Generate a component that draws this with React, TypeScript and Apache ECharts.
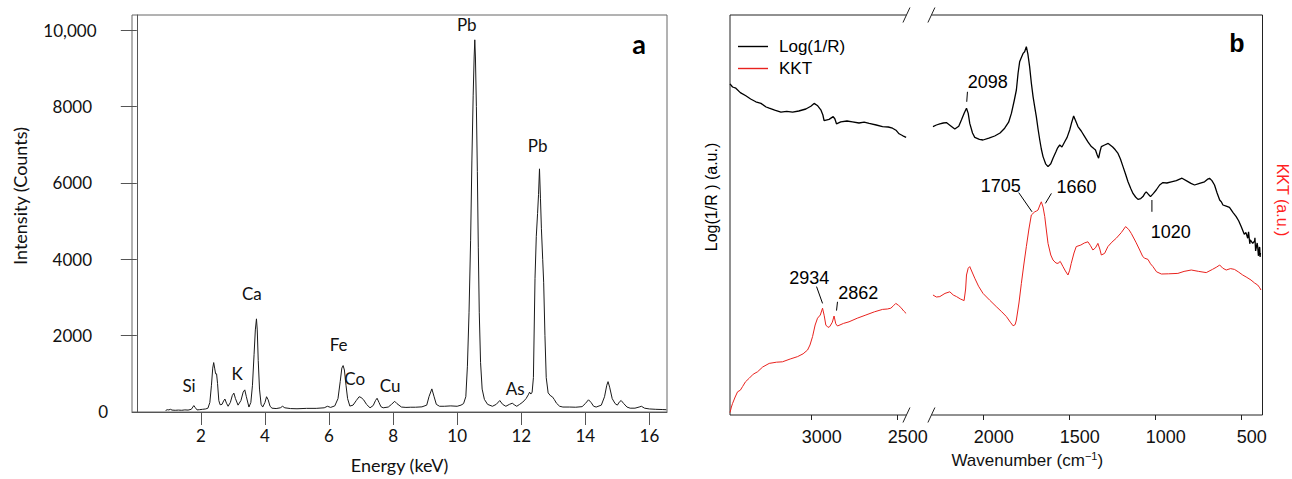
import React, { useEffect, useRef } from 'react';
import * as echarts from 'echarts';

// ---------- Panel a : EDX spectrum ----------
const edxSpectrum: [number, number][] = [
  [0.9, 40], [0.95, 60], [1.0, 55], [1.05, 70], [1.1, 50], [1.2, 45], [1.3, 50], [1.4, 45], [1.5, 55], [1.6, 50],
  [1.7, 70], [1.75, 130], [1.78, 168], [1.82, 120], [1.88, 55], [1.95, 60], [2.05, 70], [2.15, 80], [2.22, 100],
  [2.28, 250], [2.33, 700], [2.37, 1150], [2.4, 1295], [2.43, 1150], [2.46, 1000], [2.49, 1000], [2.52, 750],
  [2.56, 300], [2.6, 190], [2.66, 200], [2.71, 290], [2.75, 340], [2.8, 230], [2.85, 150], [2.92, 250], [2.98, 430],
  [3.03, 495], [3.08, 350], [3.16, 180], [3.25, 300], [3.32, 520], [3.37, 580], [3.42, 400], [3.5, 130], [3.56, 250],
  [3.61, 700], [3.66, 1500], [3.7, 2150], [3.735, 2440], [3.76, 2150], [3.79, 1350], [3.83, 600], [3.88, 200],
  [3.93, 130], [4.0, 250], [4.05, 400], [4.1, 320], [4.16, 150], [4.22, 100], [4.35, 90], [4.48, 110], [4.55, 150],
  [4.62, 110], [4.8, 90], [5.0, 85], [5.3, 95], [5.6, 95], [5.85, 110], [5.95, 150], [6.05, 120], [6.18, 160],
  [6.28, 350], [6.35, 800], [6.4, 1150], [6.44, 1216], [6.48, 1100], [6.53, 700], [6.58, 350], [6.65, 155],
  [6.75, 180], [6.85, 300], [6.94, 400], [7.0, 380], [7.08, 320], [7.17, 200], [7.28, 110], [7.38, 170], [7.45, 300],
  [7.5, 360], [7.56, 250], [7.62, 140], [7.69, 110], [7.85, 130], [7.95, 200], [8.05, 280], [8.12, 220], [8.26, 130],
  [8.4, 120], [8.55, 125], [8.7, 125], [8.9, 135], [9.05, 180], [9.12, 400], [9.21, 605], [9.28, 400], [9.35, 200],
  [9.45, 150], [9.6, 150], [9.8, 160], [10.0, 150], [10.12, 180], [10.2, 220], [10.27, 400], [10.32, 1200],
  [10.37, 2600], [10.42, 4500], [10.46, 6600], [10.5, 8300], [10.53, 9300], [10.55, 9750], [10.57, 9300],
  [10.6, 8000], [10.63, 6300], [10.66, 4300], [10.69, 2600], [10.73, 1300], [10.78, 600], [10.85, 330],
  [10.95, 200], [11.1, 150], [11.22, 200], [11.33, 300], [11.42, 200], [11.52, 150], [11.63, 200], [11.72, 230],
  [11.8, 180], [11.86, 150], [11.95, 200], [12.05, 260], [12.15, 350], [12.22, 450], [12.26, 520], [12.3, 470],
  [12.34, 520], [12.38, 900], [12.43, 3500], [12.47, 4600], [12.51, 5200], [12.54, 5700], [12.57, 6370],
  [12.6, 5600], [12.63, 4800], [12.67, 4000], [12.7, 3400], [12.74, 2000], [12.78, 900], [12.84, 500], [12.92, 420],
  [12.97, 400], [13.03, 330], [13.1, 230], [13.2, 150], [13.3, 130], [13.5, 130], [13.7, 125], [13.9, 140],
  [14.0, 220], [14.1, 320], [14.18, 250], [14.26, 150], [14.34, 130], [14.5, 180], [14.6, 400], [14.67, 700],
  [14.71, 795], [14.76, 650], [14.84, 350], [14.93, 220], [15.0, 180], [15.07, 270], [15.12, 300], [15.2, 220],
  [15.3, 130], [15.4, 100], [15.55, 100], [15.68, 130], [15.75, 150], [15.85, 100], [16.0, 80], [16.2, 70],
  [16.4, 65], [16.53, 60],
];
const energyTicks = [2, 4, 6, 8, 10, 12, 14, 16];
const countTicks = [2000, 4000, 6000, 8000, 10000];
const countLabels = [0, 2000, 4000, 6000, 8000, 10000];
const edxPeakLabels = [
  { text: 'Si', e: 1.63, c: 700 },
  { text: 'K', e: 3.13, c: 1001 },
  { text: 'Ca', e: 3.59, c: 3112 },
  { text: 'Fe', e: 6.3, c: 1777 },
  { text: 'Co', e: 6.8, c: 887 },
  { text: 'Cu', e: 7.91, c: 698 },
  { text: 'As', e: 11.81, c: 613 },
  { text: 'Pb', e: 10.3, c: 10141 },
  { text: 'Pb', e: 12.51, c: 6993 },
];

// ---------- Panel b : FTIR ----------
const log1rLeft: [number, number][] = [
  [3470, 82.8], [3455, 82.0], [3436, 81.7], [3410, 80.6], [3378, 79.8], [3350, 79.0], [3320, 78.3], [3290, 77.9],
  [3260, 77.0], [3242, 76.7], [3210, 76.2], [3174, 75.7], [3140, 75.9], [3106, 75.7], [3070, 76.0], [3029, 76.5],
  [3000, 77.2], [2981, 77.9], [2960, 77.3], [2942, 76.3], [2930, 75.0], [2923, 73.6], [2894, 73.9], [2870, 74.6],
  [2860, 74.0], [2851, 72.8], [2826, 73.3], [2790, 73.5], [2758, 73.3], [2720, 73.0], [2690, 73.2], [2661, 72.9],
  [2620, 72.5], [2583, 72.1], [2550, 72.0], [2525, 71.7], [2505, 71.2], [2487, 70.3], [2465, 69.8], [2446, 69.4],
];
const log1rRight: [number, number][] = [
  [2290, 72.1], [2270, 72.5], [2250, 72.8], [2230, 73.0], [2212, 73.1], [2190, 72.4], [2163, 71.5], [2140, 72.2],
  [2124, 73.8], [2108, 75.5], [2095, 76.7], [2085, 75.4], [2076, 72.9], [2060, 70.5], [2047, 69.4], [2020, 68.9],
  [1999, 68.75], [1965, 69.2], [1931, 69.75], [1900, 70.5], [1873, 71.7], [1850, 73.2], [1834, 75.4], [1818, 78.5],
  [1805, 81.25], [1795, 85.5], [1786, 88.3], [1776, 89.4], [1766, 90.4], [1757, 90.8], [1747, 92.1], [1738, 90.2],
  [1728, 87.1], [1718, 83.0], [1708, 79.6], [1698, 76.9], [1689, 74.6], [1679, 71.5], [1669, 68.75], [1660, 66.5],
  [1650, 64.6], [1635, 62.8], [1621, 62.1], [1605, 62.8], [1592, 64.2], [1575, 65.8], [1565, 66.8], [1553, 67.5],
  [1540, 67.0], [1524, 68.3], [1510, 69.4], [1495, 71.25], [1483, 73.2], [1472, 74.75], [1460, 73.5], [1447, 72.1],
  [1428, 71.0], [1408, 69.6], [1388, 68.2], [1369, 67.1], [1355, 66.6], [1345, 66.25], [1335, 65.0], [1327, 64.2],
  [1318, 66.0], [1311, 67.1], [1292, 67.5], [1271, 67.9], [1245, 67.0], [1230, 66.3], [1214, 65.4], [1200, 64.0],
  [1185, 62.1], [1170, 60.2], [1156, 58.3], [1140, 56.6], [1127, 55.4], [1112, 54.5], [1098, 53.9], [1082, 54.1],
  [1069, 54.6], [1058, 55.4], [1050, 55.8], [1038, 55.2], [1025, 54.6], [1008, 55.4], [992, 56.25], [972, 57.5],
  [953, 58.1], [930, 58.0], [904, 58.3], [875, 58.6], [842, 59.2], [810, 58.4], [790, 57.9], [769, 57.5],
  [740, 57.9], [711, 58.3], [695, 58.9], [682, 59.2], [668, 58.6], [653, 57.5], [638, 55.5], [623, 53.75],
  [612, 53.2], [604, 52.5], [585, 52.2], [566, 51.9], [545, 50.6], [527, 49.6], [512, 48.5], [498, 47.1],
  [480, 45.2], [470, 45.6], [460, 44.2], [455, 45.8], [448, 42.8], [445, 43.8], [431, 42.9], [420, 43.5],
  [418, 44.3], [414, 41.0], [412, 41.5], [405, 43.0], [402, 42.1], [398, 39.8], [396, 40.0], [392, 42.0],
  [390, 41.8], [388, 39.5], [386, 40.5],
];
const kktLeft: [number, number][] = [
  [3470, 0.6], [3462, 2.0], [3455, 2.9], [3440, 4.5], [3426, 5.8], [3410, 6.2], [3397, 7.1], [3380, 8.3],
  [3358, 9.2], [3335, 10.2], [3310, 10.8], [3280, 12.0], [3242, 12.9], [3200, 13.2], [3165, 13.3], [3120, 14.0],
  [3077, 14.6], [3045, 15.3], [3019, 16.25], [3005, 17.5], [2990, 19.6], [2975, 22.5], [2961, 24.2], [2945, 25.0],
  [2932, 26.7], [2922, 24.8], [2913, 22.5], [2900, 21.9], [2890, 22.1], [2875, 23.2], [2865, 24.75], [2855, 22.8],
  [2845, 22.25], [2810, 22.9], [2778, 23.3], [2730, 24.2], [2680, 25.0], [2630, 25.8], [2583, 26.4], [2555, 26.5],
  [2535, 26.7], [2520, 27.3], [2506, 27.9], [2490, 27.4], [2477, 26.9], [2460, 26.0], [2446, 25.4],
];
const kktRight: [number, number][] = [
  [2290, 30.0], [2270, 29.5], [2250, 29.6], [2220, 30.4], [2192, 30.8], [2172, 30.0], [2153, 29.6], [2130, 29.0],
  [2109, 28.6], [2100, 31.5], [2095, 35.0], [2085, 36.7], [2076, 37.1], [2065, 36.0], [2047, 34.2], [2025, 32.2],
  [1999, 30.4], [1960, 28.7], [1922, 27.1], [1890, 25.8], [1863, 24.6], [1840, 23.2], [1824, 22.3], [1812, 22.6],
  [1805, 23.75], [1790, 28.0], [1776, 32.9], [1762, 37.5], [1747, 42.1], [1732, 46.5], [1718, 50.0], [1698, 50.8],
  [1688, 51.0], [1679, 51.25], [1668, 52.5], [1660, 53.3], [1650, 52.0], [1640, 49.6], [1630, 46.0], [1621, 42.9],
  [1605, 40.0], [1592, 38.75], [1575, 38.0], [1563, 37.9], [1550, 38.4], [1534, 37.1], [1520, 36.0], [1505, 35.0],
  [1495, 36.2], [1486, 37.9], [1470, 40.5], [1457, 42.1], [1430, 42.5], [1410, 43.0], [1389, 43.3], [1375, 42.4],
  [1360, 41.25], [1345, 41.8], [1331, 42.9], [1320, 41.5], [1311, 40.0], [1292, 40.4], [1273, 42.1], [1250, 43.2],
  [1224, 44.2], [1195, 45.6], [1170, 47.1], [1152, 46.4], [1137, 45.4], [1110, 43.2], [1088, 41.25], [1070, 39.6],
  [1059, 39.2], [1040, 38.9], [1025, 37.8], [1011, 37.1], [990, 35.8], [962, 35.25], [920, 35.3], [866, 35.4],
  [830, 35.9], [788, 36.25], [745, 35.9], [701, 35.6], [665, 36.4], [640, 37.0], [623, 37.5], [605, 36.7],
  [585, 36.25], [560, 36.6], [537, 36.4], [515, 35.8], [489, 35.0], [465, 34.4], [441, 33.75], [420, 33.0],
  [402, 32.5], [390, 31.8], [383, 31.25],
];
const wavenumberTicks = [500, 1000, 1500, 2000, 2500, 3000];
const ftirPeakLabels = [
  { text: '2098', w: 1971.5, v: 83.3, lead: [[2089.5, 80.8], [2093.6, 78.3]] },
  { text: '1705', w: 1896, v: 57.25, lead: [[1791.4, 55.6], [1714.1, 50.8]] },
  { text: '1660', w: 1456, v: 56.9, lead: [[1601.4, 55.4], [1636.3, 52.9]] },
  { text: '1020', w: 908, v: 45.8, lead: [[1017, 53.75], [1017, 50.8]] },
  { text: '2934', w: 3008.7, v: 34.25, lead: [[2966.9, 32.1], [2932, 27.9]] },
  { text: '2862', w: 2724, v: 30.6, lead: [[2845, 28.3], [2850.7, 26.1]] },
];
const breakStart = 2444;
const breakEnd = 2299;
const wnMin = 374;
const wnMax = 3470;

const FL = 'Lato, "Open Sans", sans-serif';
const FA = '"Liberation Sans", Arial, sans-serif';

export default function App() {
  const ref = useRef<HTMLDivElement>(null);
  useEffect(() => {
    document.body.style.margin = '0';
    const chart = echarts.init(ref.current!, null, { renderer: 'svg' });
    const option: any = {
      animation: false,
      backgroundColor: '#ffffff',
      grid: [
        { left: 132, top: 15, width: 535, height: 402, show: true, borderColor: '#666', borderWidth: 1 },
        { left: 730, top: 15, width: 532.5, height: 400, show: false },
      ],
      legend: {
        data: ['Log(1/R)', 'KKT'],
        orient: 'vertical',
        left: 738,
        top: 38,
        padding: 0,
        icon: 'rect',
        itemWidth: 30,
        itemHeight: 1.4,
        itemGap: 5,
        textStyle: { fontFamily: FA, fontSize: 17, color: '#000', padding: [0, 0, 0, 6] },
      },
      xAxis: [
        {
          gridIndex: 0, type: 'value', min: -0.15, max: 16.55,
          axisLine: { show: true, onZero: false, lineStyle: { color: '#555', width: 1 } },
          axisTick: { show: true, length: 13, customValues: energyTicks, lineStyle: { color: '#555' } },
          axisLabel: { customValues: energyTicks, margin: 15, fontFamily: FL, fontSize: 17, color: '#111' },
          splitLine: { show: false },
          name: 'Energy (keV)', nameLocation: 'middle', nameGap: 44,
          nameTextStyle: { fontFamily: FL, fontSize: 18, color: '#111' },
        },
        {
          gridIndex: 1, type: 'value', inverse: true, min: wnMin, max: wnMax,
          axisLine: { show: false },
          axisTick: { show: true, length: 5, customValues: wavenumberTicks, lineStyle: { color: '#222' } },
          axisLabel: {
            customValues: wavenumberTicks, margin: 13, padding: [0, 0, 0, 22],
            fontFamily: FA, fontSize: 18, color: '#111',
            formatter: (v: number) => String(v),
          },
          splitLine: { show: false },
          name: 'Wavenumber (cm{sup|−1})', nameLocation: 'middle', nameGap: 35,
          nameTextStyle: {
            fontFamily: FA, fontSize: 17, color: '#111', lineHeight: 20, padding: [0, 0, 0, 62],
            rich: { sup: { fontFamily: FA, fontSize: 11, lineHeight: 11, verticalAlign: 'top', color: '#111' } },
          },
        },
      ],
      yAxis: [
        {
          gridIndex: 0, type: 'value', min: 0, max: 10400,
          axisLine: { show: true, lineStyle: { color: '#555' } },
          axisTick: { show: true, length: 16, customValues: countTicks, lineStyle: { color: '#555' } },
          axisLabel: {
            customValues: countLabels, margin: 62, align: 'center',
            fontFamily: FL, fontSize: 17, color: '#111',
            formatter: (v: number) => (v === 0 ? '{z|0}' : v === 10000 ? '{b|10,000}' : '{n|' + v + '}'),
            rich: {
              n: { width: 44, align: 'right', fontFamily: FL, fontSize: 17, color: '#111' },
              b: { width: 53, align: 'right', fontFamily: FL, fontSize: 17, color: '#111' },
              z: { width: 76, align: 'right', fontFamily: FL, fontSize: 17, color: '#111', padding: [0, 0, 2, 0] },
            },
          },
          splitLine: { show: false },
          name: 'Intensity (Counts)', nameLocation: 'middle', nameGap: 103, nameRotate: 90,
          nameTextStyle: { fontFamily: FL, fontSize: 18, color: '#111', padding: [0, 0, 0, 35] },
        },
        {
          gridIndex: 1, type: 'value', min: 0, max: 100, position: 'left',
          axisLine: { show: false }, axisTick: { show: false }, axisLabel: { show: false }, splitLine: { show: false },
          name: 'Log(1/R ) (a.u.)', nameLocation: 'middle', nameGap: 11, nameRotate: 90,
          nameTextStyle: { fontFamily: FA, fontSize: 16, color: '#000', padding: [0, 0, 0, 36] },
        },
        {
          gridIndex: 1, type: 'value', min: 0, max: 100, position: 'right',
          axisLine: { show: false }, axisTick: { show: false }, axisLabel: { show: false }, splitLine: { show: false },
          name: 'KKT (a.u.)', nameLocation: 'middle', nameGap: 12, nameRotate: -90,
          nameTextStyle: { fontFamily: FA, fontSize: 16, color: '#ff1f1f', padding: [0, 30, 0, 0] },
        },
      ],
      series: [
        {
          type: 'line', xAxisIndex: 0, yAxisIndex: 0, data: edxSpectrum, symbol: 'none', silent: true,
          lineStyle: { color: '#1a1a1a', width: 1 },
        },
        {
          type: 'line', name: 'Log(1/R)', xAxisIndex: 1, yAxisIndex: 1, symbol: 'none', silent: true,
          data: [...log1rLeft, [2370, '-'], ...log1rRight],
          lineStyle: { color: '#000', width: 1.3 }, itemStyle: { color: '#000' },
        },
        {
          type: 'line', name: 'KKT', xAxisIndex: 1, yAxisIndex: 1, symbol: 'none', silent: true,
          data: [...kktLeft, [2370, '-'], ...kktRight],
          lineStyle: { color: '#e8221e', width: 1 }, itemStyle: { color: '#e8221e' },
        },
      ],
    };
    chart.setOption(option);

    const g: any[] = [];
    const p0 = (x: number, y: number) => chart.convertToPixel({ gridIndex: 0 } as any, [x, y]) as number[];
    const p1 = (x: number, y: number) => chart.convertToPixel({ gridIndex: 1 } as any, [x, y]) as number[];

    edxPeakLabels.forEach((l) => {
      const [x, y] = p0(l.e, l.c);
      g.push({ type: 'text', x, y, silent: true, style: { text: l.text, font: `17px ${FL}`, fill: '#111', align: 'center', verticalAlign: 'middle' } });
    });
    g.push({ type: 'text', x: 639, y: 43, silent: true, style: { text: 'a', font: `bold 27px ${FL}`, fill: '#000', align: 'center', verticalAlign: 'middle' } });
    g.push({ type: 'text', x: 1237, y: 43, silent: true, style: { text: 'b', font: `bold 25px ${FA}`, fill: '#000', align: 'center', verticalAlign: 'middle' } });

    ftirPeakLabels.forEach((l) => {
      const [x, y] = p1(l.w, l.v);
      g.push({ type: 'text', x, y, silent: true, style: { text: l.text, font: `18px ${FA}`, fill: '#000', align: 'center', verticalAlign: 'middle' } });
      const [a, b] = l.lead;
      const [x1, y1] = p1(a[0], a[1]);
      const [x2, y2] = p1(b[0], b[1]);
      g.push({ type: 'line', silent: true, shape: { x1, y1, x2, y2 }, style: { stroke: '#000', lineWidth: 1 } });
    });

    // right panel frame with axis break
    const [lx, by] = p1(wnMax, 0);
    const [rx, ty] = p1(wnMin, 100);
    const [gx1] = p1(breakStart, 0);
    const [gx2] = p1(breakEnd, 0);
    const frame = { stroke: '#222', lineWidth: 1 };
    const seg = (x1: number, y1: number, x2: number, y2: number) =>
      g.push({ type: 'line', silent: true, shape: { x1, y1, x2, y2 }, style: frame });
    seg(lx, ty, lx, by);
    seg(rx, ty, rx, by);
    seg(lx, ty, gx1, ty);
    seg(gx2, ty, rx, ty);
    seg(lx, by, gx1, by);
    seg(gx2, by, rx, by);
    [ty, by].forEach((yy) => {
      [gx1, gx2].forEach((xx) => seg(xx - 3.5, yy + 7.5, xx + 3.5, yy - 7.5));
    });

    chart.setOption({ graphic: g });
    return () => chart.dispose();
  }, []);
  return <div ref={ref} style={{ width: 1292, height: 479 }} />;
}
